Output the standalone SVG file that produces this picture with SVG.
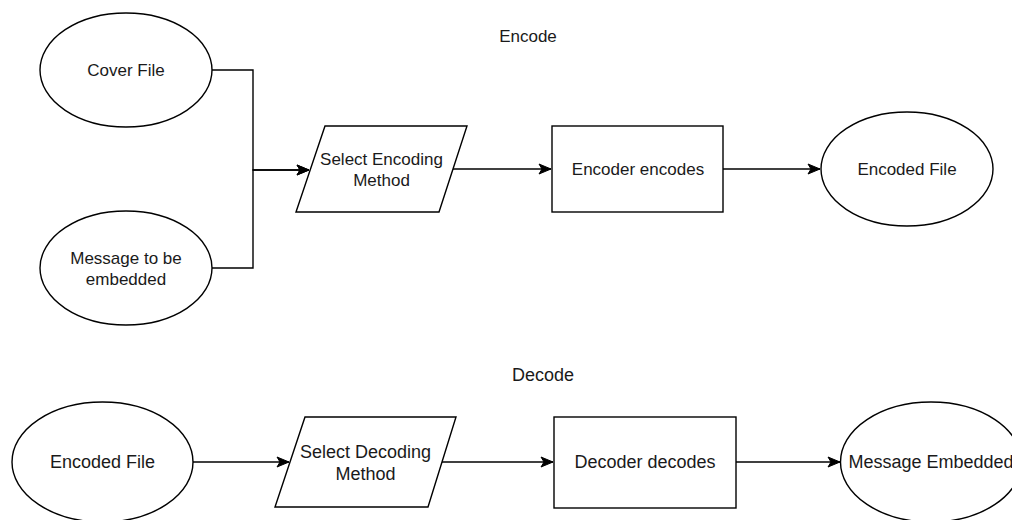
<svg xmlns="http://www.w3.org/2000/svg" width="1012" height="520" viewBox="0 0 1012 520">
<defs>
<style>
.shape{fill:#ffffff;stroke:#000000;stroke-width:1.4}
.edge{fill:none;stroke:#000000;stroke-width:1.4}
text{font-family:"Liberation Sans",Arial,Helvetica,sans-serif;fill:#1a1a1a;text-anchor:middle}
.t1{font-size:17px}
.t2{font-size:18px}
</style>
<marker id="arrow" markerUnits="userSpaceOnUse" markerWidth="14" markerHeight="12" refX="13" refY="6" orient="auto">
<path d="M1,1 L13,6 L1,11 L4,6 Z" fill="#000000" stroke="#000000" stroke-width="1"/>
</marker>
</defs>
<rect width="1012" height="520" fill="#ffffff"/>
<g id="connectors">
<path class="edge" d="M212,70 H253 V170 H309" marker-end="url(#arrow)"/>
<path class="edge" d="M212,268 H253 V170 H309" marker-end="url(#arrow)"/>
<path class="edge" d="M453,169 H551" marker-end="url(#arrow)"/>
<path class="edge" d="M723,169 H820" marker-end="url(#arrow)"/>
<path class="edge" d="M193,462 H289" marker-end="url(#arrow)"/>
<path class="edge" d="M442,462 H553" marker-end="url(#arrow)"/>
<path class="edge" d="M736,462 H840" marker-end="url(#arrow)"/>
</g>
<g id="label-encode"><text class="t1" x="528" y="42">Encode</text></g>
<g id="label-decode"><text class="t2" x="543" y="381">Decode</text></g>
<g id="cover-file">
<ellipse class="shape" cx="126" cy="70" rx="86" ry="57"/>
<text class="t1" x="126" y="76">Cover File</text>
</g>
<g id="message">
<ellipse class="shape" cx="126" cy="268" rx="86" ry="57"/>
<text class="t1" x="126" y="264">Message to be</text>
<text class="t1" x="126" y="285">embedded</text>
</g>
<g id="select-encoding">
<polygon class="shape" points="325,126 467,126 439,212 296,212"/>
<text class="t1" x="381.5" y="165">Select Encoding</text>
<text class="t1" x="381.5" y="186">Method</text>
</g>
<g id="encoder">
<rect class="shape" x="552" y="126" width="171" height="86"/>
<text class="t1" x="638" y="175">Encoder encodes</text>
</g>
<g id="encoded-file-top">
<ellipse class="shape" cx="907" cy="169" rx="86" ry="57"/>
<text class="t1" x="907" y="175">Encoded File</text>
</g>
<g id="encoded-file-bottom">
<ellipse class="shape" cx="102.5" cy="462" rx="90.5" ry="60"/>
<text class="t2" x="102.5" y="468">Encoded File</text>
</g>
<g id="select-decoding">
<polygon class="shape" points="305,417 456,417 428,507 275,507"/>
<text class="t2" x="365.5" y="458">Select Decoding</text>
<text class="t2" x="365.5" y="480">Method</text>
</g>
<g id="decoder">
<rect class="shape" x="554" y="417" width="182" height="91"/>
<text class="t2" x="645" y="468">Decoder decodes</text>
</g>
<g id="message-embedded">
<ellipse class="shape" cx="931" cy="462" rx="90.5" ry="60"/>
<text class="t2" x="931" y="468">Message Embedded</text>
</g>
</svg>
